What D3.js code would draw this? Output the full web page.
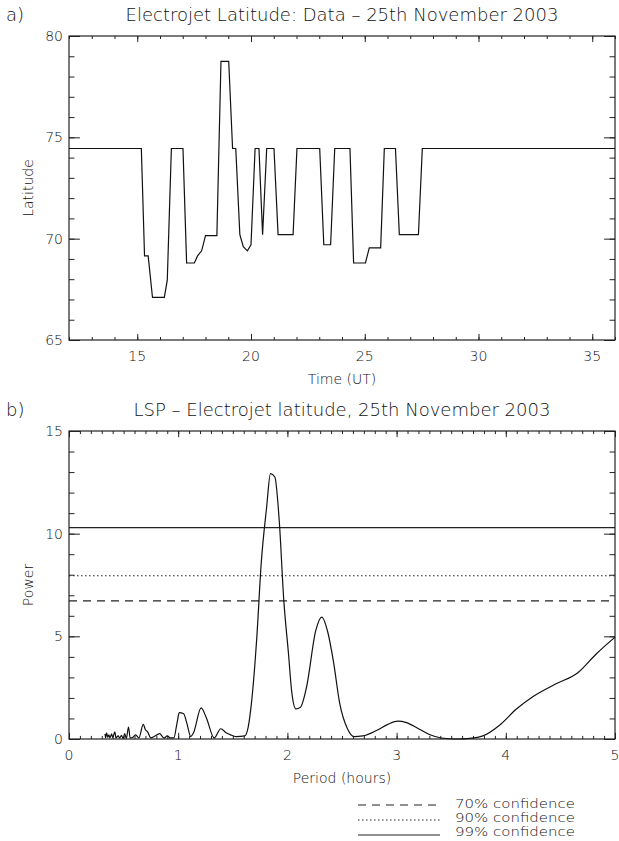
<!DOCTYPE html>
<html><head><meta charset="utf-8">
<script src="https://cdn.jsdelivr.net/npm/d3@7"></script>
<style>
body{margin:0;background:#fff;}
text{font-family:"DejaVu Sans","Liberation Sans",sans-serif;font-weight:200;fill:#111;}
</style></head>
<body><svg id="c" width="619" height="841"></svg>
<script>
// ---- Data: panel a (electrojet latitude) ----
const latTime = [12,15.18,15.32,15.48,15.67,16.19,16.32,16.5,17.01,17.17,17.51,17.65,17.83,18.0,18.5,18.68,19.02,19.19,19.33,19.51,19.66,19.84,20.0,20.18,20.35,20.51,20.69,21.01,21.19,21.85,22.02,23.02,23.2,23.5,23.68,24.35,24.51,25.03,25.2,25.7,25.86,26.35,26.52,27.36,27.53,36];
const latValue = [74.45,74.45,69.15,69.15,67.1,67.1,67.95,74.45,74.45,68.8,68.8,69.15,69.4,70.15,70.15,78.75,78.75,74.45,74.45,70.2,69.6,69.4,69.7,74.45,74.45,70.2,74.45,74.45,70.2,70.2,74.45,74.45,69.7,69.7,74.45,74.45,68.8,68.8,69.55,69.55,74.45,74.45,70.2,70.2,74.45,74.45];
const timeTicks = [15,20,25,30,35];
const latTicks = [65,70,75,80];

// ---- Data: panel b (Lomb-Scargle periodogram) ----
const period = [0.33,0.335,0.345,0.355,0.365,0.375,0.39,0.40,0.42,0.43,0.45,0.465,0.48,0.495,0.51,0.525,0.545,0.56,0.59,0.61,0.64,0.68,0.70,0.72,0.75,0.78,0.83,0.87,0.90,0.93,0.96,0.99,1.01,1.05,1.08,1.115,1.14,1.21,1.26,1.33,1.39,1.44,1.48,1.53,1.61,1.64,1.67,1.72,1.76,1.81,1.845,1.885,1.925,1.967,2.01,2.04,2.077,2.12,2.175,2.26,2.315,2.37,2.42,2.48,2.55,2.61,2.69,2.815,2.92,3.01,3.09,3.2,3.30,3.41,3.55,3.67,3.79,3.94,4.10,4.25,4.46,4.66,4.83,5.0];
const power = [0.25,0.05,0.3,0.08,0.2,0.05,0.25,0.08,0.35,0.05,0.15,0.05,0.18,0.03,0.26,0.03,0.58,0.05,0.1,0.2,0.05,0.71,0.45,0.35,0.05,0.12,0.26,0.05,0.15,0.05,0.05,0.8,1.28,1.23,0.75,0.12,0.3,1.52,1.0,0.05,0.5,0.3,0.2,0.12,0.15,0.55,1.71,4.96,8.54,11.3,12.92,12.76,10.65,6.75,4.15,2.28,1.47,1.55,2.52,5.29,5.94,5.2,3.83,1.71,0.5,0.12,0.15,0.41,0.71,0.87,0.8,0.5,0.22,0.05,0.0,0.03,0.15,0.66,1.47,2.07,2.69,3.23,4.15,4.96];
const periodTicks = [0,1,2,3,4,5];
const powerTicks = [0,5,10,15];
const confLabels = ["70% confidence","90% confidence","99% confidence"];
const confLevels = [6.73,7.95,10.29];
const confDash = ["8,6","1.5,2.5",null];

const svg = d3.select("#c");
const L = 69, R = 615;

function panel(o){
  const g = svg.append("g");
  const x = d3.scaleLinear().domain(o.xd).range([L,R]);
  const y = d3.scaleLinear().domain(o.yd).range([o.bottom,o.top]);
  const h = o.bottom - o.top, w = R - L;
  const xMaj = 0.02*h, yMaj = 0.02*w;
  const xMinor = d3.range(o.xd[0], o.xd[1]+1e-9, o.xMinorStep);
  const yMinor = d3.range(o.yd[0], o.yd[1]+1e-9, o.yMinorStep);
  g.append("g").attr("transform",`translate(0,${o.bottom})`)
    .call(d3.axisTop(x).tickValues(xMinor).tickSize(xMaj/2).tickFormat(""));
  g.append("g").attr("transform",`translate(0,${o.bottom})`)
    .call(d3.axisTop(x).tickValues(o.xTicks).tickSize(xMaj).tickFormat(""));
  g.append("g").attr("transform",`translate(0,${o.top})`)
    .call(d3.axisBottom(x).tickValues(xMinor).tickSize(xMaj/2).tickFormat(""));
  g.append("g").attr("transform",`translate(0,${o.top})`)
    .call(d3.axisBottom(x).tickValues(o.xTicks).tickSize(xMaj).tickFormat(""));
  g.append("g").attr("transform",`translate(${L},0)`)
    .call(d3.axisRight(y).tickValues(yMinor).tickSize(yMaj/2).tickFormat(""));
  g.append("g").attr("transform",`translate(${L},0)`)
    .call(d3.axisRight(y).tickValues(o.yTicks).tickSize(yMaj).tickFormat(""));
  g.append("g").attr("transform",`translate(${R},0)`)
    .call(d3.axisLeft(y).tickValues(yMinor).tickSize(yMaj/2).tickFormat(""));
  g.append("g").attr("transform",`translate(${R},0)`)
    .call(d3.axisLeft(y).tickValues(o.yTicks).tickSize(yMaj).tickFormat(""));
  g.selectAll(".domain").remove();
  g.selectAll(".tick line").attr("stroke","#222").attr("stroke-width",1);
  g.append("rect").attr("x",L).attr("y",o.top).attr("width",w).attr("height",h)
    .attr("fill","none").attr("stroke","#222").attr("stroke-width",1.2);
  g.selectAll(".xl").data(o.xTicks).enter().append("text")
    .attr("x",d=>x(d)).attr("y",o.bottom+21).attr("text-anchor","middle")
    .attr("font-size",14).text(d=>d);
  g.selectAll(".yl").data(o.yTicks).enter().append("text")
    .attr("x",L-6).attr("y",d=>y(d)+5).attr("text-anchor","end")
    .attr("font-size",14).text(d=>d);
  g.append("text").attr("x",(L+R)/2).attr("y",o.bottom+44).attr("text-anchor","middle")
    .attr("font-size",14).text(o.xLabel);
  g.append("text").attr("transform",`translate(33,${(o.top+o.bottom)/2}) rotate(-90)`)
    .attr("text-anchor","middle").attr("font-size",14).text(o.yLabel);
  g.append("text").attr("x",(L+R)/2).attr("y",o.top-15).attr("text-anchor","middle")
    .attr("font-size",18).text(o.title);
  g.append("text").attr("x",6).attr("y",o.top-15).attr("font-size",18).text(o.tag);
  return {g,x,y};
}

// Panel a
const A = panel({xd:[12,36], yd:[65,80], top:36, bottom:340, xTicks:timeTicks, yTicks:latTicks,
  xMinorStep:1, yMinorStep:1, xLabel:"Time (UT)", yLabel:"Latitude",
  title:"Electrojet Latitude: Data – 25th November 2003", tag:"a)"});
A.g.append("path").datum(latTime.map((t,i)=>[t,latValue[i]]))
  .attr("fill","none").attr("stroke","#111").attr("stroke-width",1.2)
  .attr("d", d3.line().x(d=>A.x(d[0])).y(d=>A.y(d[1])));

// Panel b
const B = panel({xd:[0,5], yd:[0,15], top:431, bottom:739, xTicks:periodTicks, yTicks:powerTicks,
  xMinorStep:0.1, yMinorStep:1, xLabel:"Period (hours)", yLabel:"Power",
  title:"LSP – Electrojet latitude, 25th November 2003", tag:"b)"});
confLevels.forEach((c,i)=>{
  B.g.append("line").attr("x1",L).attr("x2",R).attr("y1",B.y(c)).attr("y2",B.y(c))
    .attr("stroke","#222").attr("stroke-width",1.2)
    .attr("stroke-dasharray",confDash[i]);
});
B.g.append("path").datum(period.map((p,i)=>[p,power[i]]))
  .attr("fill","none").attr("stroke","#111").attr("stroke-width",1.2)
  .attr("d", d3.line().curve(d3.curveMonotoneX).x(d=>B.x(d[0])).y(d=>B.y(d[1])));

// Legend
const legLineY = [805,820,835];
const legTextY = [808,822,836];
const lg = svg.append("g");
confLabels.forEach((t,i)=>{
  lg.append("line").attr("x1",358).attr("x2",440).attr("y1",legLineY[i]).attr("y2",legLineY[i])
    .attr("stroke","#222").attr("stroke-width",1.2).attr("stroke-dasharray",confDash[i]);
  lg.append("text").attr("x",455).attr("y",legTextY[i]).attr("font-size",12)
    .attr("textLength",120).attr("lengthAdjust","spacingAndGlyphs").text(t);
});
</script></body></html>
